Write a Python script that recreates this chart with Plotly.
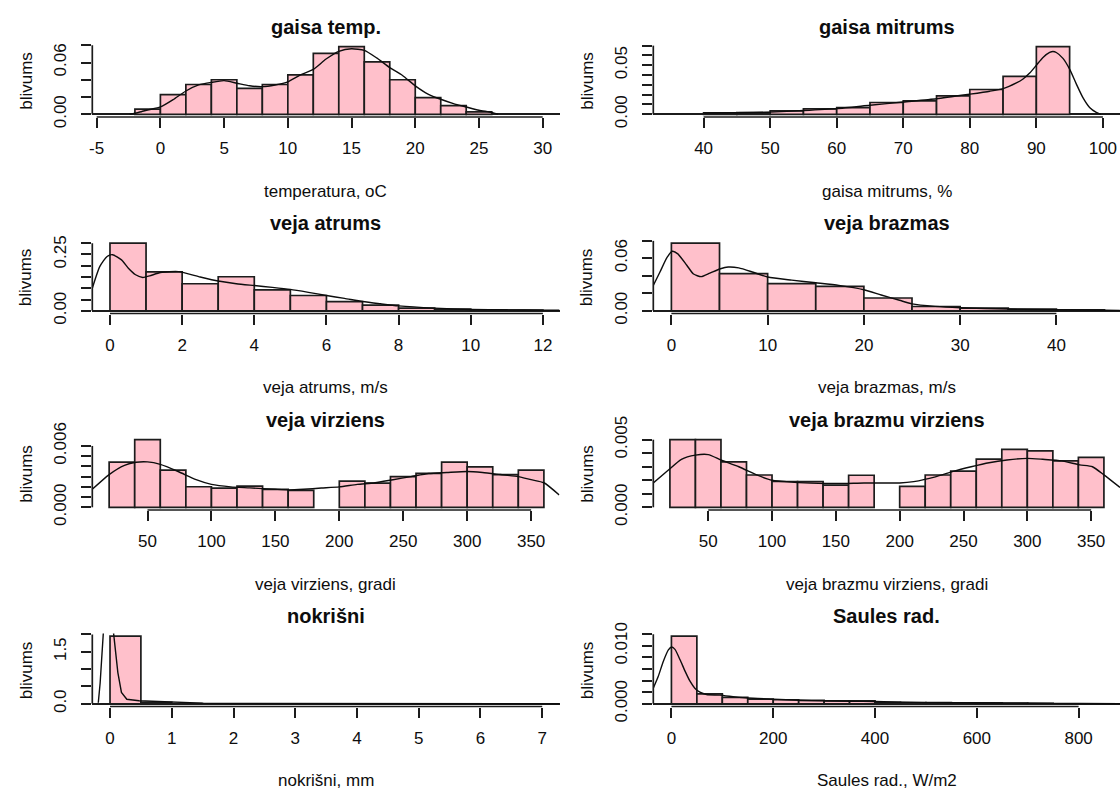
import plotly.graph_objects as go

W, H = 1120, 789

# ---------------- data: histogram breaks, densities and kernel density curves ----------------
temp_breaks = [-2, 0, 2, 4, 6, 8, 10, 12, 14, 16, 18, 20, 22, 24, 26]
temp_dens = [0.0060, 0.0229, 0.0345, 0.0400, 0.0300, 0.0345, 0.0457, 0.0705, 0.0783,
             0.0608, 0.0400, 0.0194, 0.0101, 0.0027]
temp_kde_x = [-2.4, -1.5, -1, 0, 1, 2, 3, 4, 5, 6, 7, 8, 9, 10, 11, 12, 13, 14, 15, 16,
              17, 18, 19, 20, 21, 22, 23, 24, 25, 26, 26.5]
temp_kde_y = [0, 0.003, 0.005, 0.0085, 0.017, 0.027, 0.034, 0.037, 0.039, 0.036, 0.033,
              0.032, 0.034, 0.0376, 0.0457, 0.052, 0.064, 0.073, 0.076, 0.074, 0.065, 0.054,
              0.045, 0.033, 0.0235, 0.0174, 0.0124, 0.0085, 0.0047, 0.0023, 0]

hum_breaks = [40, 45, 50, 55, 60, 65, 70, 75, 80, 85, 90, 95]
hum_dens = [0.0016, 0.0017, 0.0034, 0.0055, 0.0068, 0.0120, 0.0137, 0.0188, 0.0253,
            0.0386, 0.0689]
hum_kde_x = [40, 45, 50, 55, 60, 65, 70, 75, 80, 83, 85, 87, 88, 89, 90, 91, 92, 92.5,
             93, 94, 95, 96, 97, 98, 99, 99.7]
hum_kde_y = [0.0012, 0.0015, 0.0022, 0.0038, 0.0058, 0.0092, 0.0125, 0.0158, 0.0205,
             0.0235, 0.0262, 0.032, 0.036, 0.042, 0.050, 0.058, 0.063, 0.064, 0.063,
             0.057, 0.046, 0.031, 0.017, 0.007, 0.002, 0]

wind_breaks = [0, 1, 2, 3, 4, 5, 6, 7, 8, 9, 10, 11, 12]
wind_dens = [0.300, 0.173, 0.120, 0.151, 0.093, 0.068, 0.041, 0.025, 0.012, 0.007,
             0.004, 0.003]
wind_kde_x = [-0.49, -0.28, -0.08, 0.07, 0.32, 0.51, 0.71, 0.91, 1.1, 1.4, 1.9, 2.5, 3,
              3.5, 4, 4.5, 5, 5.5, 6, 6.5, 7, 7.5, 8, 9, 10, 11, 12, 12.46]
wind_kde_y = [0.10, 0.197, 0.241, 0.249, 0.226, 0.189, 0.16, 0.148, 0.155, 0.17, 0.174,
              0.15, 0.132, 0.12, 0.112, 0.104, 0.095, 0.082, 0.068, 0.055, 0.041, 0.031,
              0.022, 0.012, 0.006, 0.004, 0.003, 0.0025]

gust_breaks = [0, 5, 10, 15, 20, 25, 30, 35, 40, 45]
gust_dens = [0.0772, 0.0424, 0.0311, 0.0278, 0.0146, 0.0049, 0.0030, 0.0019, 0.0011]
gust_kde_x = [-1.88, -1.2, -0.45, 0.1, 0.67, 1.6, 2.3, 3.1, 4.0, 5.1, 5.9, 7.0, 8.5, 10,
              12.5, 15, 17.4, 20, 21.8, 23.7, 25, 27.4, 30, 35, 40, 45, 46.6]
gust_kde_y = [0.029, 0.044, 0.061, 0.068, 0.065, 0.052, 0.042, 0.039, 0.043, 0.048, 0.050,
              0.049, 0.044, 0.0386, 0.035, 0.032, 0.029, 0.024, 0.018, 0.012, 0.0079,
              0.005, 0.0034, 0.002, 0.0012, 0.0006, 0.0005]

dir_breaks = [20, 40, 60, 80, 100, 120, 140, 160, 180, 200, 220, 240, 260, 280, 300,
              320, 340, 360]
dir_dens = [0.00441, 0.00661, 0.00364, 0.00201, 0.00188, 0.00208, 0.00176, 0.00166, None,
            0.00256, 0.00236, 0.00300, 0.00332, 0.00441, 0.00396, 0.00320, 0.00364]
dir_kde_x = [6.8, 20, 32, 41, 50, 60, 74, 88, 100, 115, 130, 150, 161, 172, 186, 200, 214,
             228, 242, 256, 270, 284, 300, 312, 326, 340, 350, 360, 372]
dir_kde_y = [0.00176, 0.0032, 0.0041, 0.0044, 0.00444, 0.0042, 0.0035, 0.0027, 0.00224,
             0.0020, 0.0019, 0.00176, 0.0017, 0.00176, 0.00188, 0.0020, 0.00224, 0.0024,
             0.0027, 0.0030, 0.0033, 0.0034, 0.0035, 0.0034, 0.0032, 0.0030, 0.0027,
             0.0024, 0.0012]

gdir_breaks = [20, 40, 60, 80, 100, 120, 140, 160, 180, 200, 220, 240, 260, 280, 300,
               320, 340, 360]
gdir_dens = [0.0050, 0.0050, 0.00336, 0.00239, 0.00191, 0.00191, 0.00164, 0.00237, None,
             0.00155, 0.00239, 0.00268, 0.00357, 0.00428, 0.00418, 0.00343, 0.00370]
gdir_kde_x = [7, 17.7, 29, 40, 50, 60, 74, 88, 100, 115, 130, 151, 172, 186, 200, 211, 228,
              242, 256, 270, 284, 300, 312, 327, 341, 351, 360, 372.6]
gdir_kde_y = [0.0018, 0.00266, 0.00355, 0.00386, 0.0039, 0.0035, 0.0030, 0.0024, 0.0020,
              0.00186, 0.0018, 0.00176, 0.0018, 0.0018, 0.0018, 0.0019, 0.00225, 0.00266,
              0.0030, 0.0033, 0.0035, 0.00362, 0.00355, 0.00343, 0.00314, 0.0030, 0.0024,
              0.00147]

rain_breaks = [0, 0.5, 1, 1.5, 2, 2.5, 3, 3.5, 4, 4.5, 5, 5.5, 6, 6.5, 7]
rain_dens = [1.95, 0.04, 0.004, 0.002, 0.001, 0.001, 0.0005, 0.0005, 0.0005, 0.0002,
             0.0002, 0.0002, 0.0002, 0.0002]
rain_kde_x = [-0.19, -0.175, -0.16, -0.135, -0.11, -0.02, 0.058, 0.081, 0.097, 0.127, 0.185,
              0.272, 0.47, 0.99, 1.5, 2, 3, 4, 5, 6, 7, 7.28]
rain_kde_y = [0.03, 0.3, 0.6, 1.3, 2.0, 4.5, 2.03, 1.7, 1.4, 0.9, 0.33, 0.13, 0.09, 0.05,
              0.02, 0.01, 0.005, 0.003, 0.002, 0.002, 0.001, 0.001]

sol_breaks = [0, 50, 100, 150, 200, 250, 300, 350, 400, 450, 500, 550, 600, 650, 700, 750]
sol_dens = [0.01167, 0.0017, 0.0011, 0.0008, 0.0007, 0.0006, 0.0005, 0.0005, 0.00025,
            0.00022, 0.0002, 0.00018, 0.00015, 0.00012, 0.00008]
sol_kde_x = [-35.6, -26, -16, -6, 0.6, 7, 17, 27, 36.5, 46, 56, 69, 95, 125, 150, 200, 250,
             300, 350, 400, 500, 600, 700, 800, 881]
sol_kde_y = [0.0027, 0.0047, 0.0073, 0.0093, 0.0098, 0.0094, 0.0076, 0.0056, 0.0039,
             0.0027, 0.0020, 0.0016, 0.0015, 0.0012, 0.0010, 0.0008, 0.0006, 0.0005,
             0.00045, 0.0004, 0.0002, 0.00015, 0.0001, 0.00005, 0.00002]

# ---------------- panel definitions ----------------
panels = [
    dict(title="gaisa temp.", xlab="temperatura, oC", breaks=temp_breaks, dens=temp_dens,
         kx=temp_kde_x, ky=temp_kde_y, xr=[-5.344, 31.32], xt=[-5, 0, 5, 10, 15, 20, 25, 30],
         yt=[0, 0.02, 0.04, 0.06, 0.08], yl=["0.00", "", "", "0.06", ""], base=True),
    dict(title="gaisa mitrums", xlab="gaisa mitrums, %", breaks=hum_breaks, dens=hum_dens,
         kx=hum_kde_x, ky=hum_kde_y, xr=[32.44, 102.57], xt=[40, 50, 60, 70, 80, 90, 100],
         yt=[0, 0.01, 0.02, 0.03, 0.04, 0.05, 0.06, 0.07],
         yl=["0.00", "", "", "", "", "0.05", "", ""], base=True),
    dict(title="veja atrums", xlab="veja atrums, m/s", breaks=wind_breaks, dens=wind_dens,
         kx=wind_kde_x, ky=wind_kde_y, xr=[-0.49, 12.46], xt=[0, 2, 4, 6, 8, 10, 12],
         yt=[0, 0.05, 0.10, 0.15, 0.20, 0.25, 0.30],
         yl=["0.00", "", "", "", "", "0.25", ""], base=True),
    dict(title="veja brazmas", xlab="veja brazmas, m/s", breaks=gust_breaks, dens=gust_dens,
         kx=gust_kde_x, ky=gust_kde_y, xr=[-1.88, 46.61], xt=[0, 10, 20, 30, 40],
         yt=[0, 0.02, 0.04, 0.06, 0.08], yl=["0.00", "", "", "0.06", ""], base=True),
    dict(title="veja virziens", xlab="veja virziens, gradi", breaks=dir_breaks, dens=dir_dens,
         kx=dir_kde_x, ky=dir_kde_y, xr=[6.83, 372.2], xt=[50, 100, 150, 200, 250, 300, 350],
         yt=[0, 0.001, 0.002, 0.003, 0.004, 0.005, 0.006],
         yl=["0.000", "", "", "", "", "", "0.006"], base=False),
    dict(title="veja brazmu virziens", xlab="veja brazmu virziens, gradi", breaks=gdir_breaks,
         dens=gdir_dens, kx=gdir_kde_x, ky=gdir_kde_y, xr=[6.99, 372.6],
         xt=[50, 100, 150, 200, 250, 300, 350],
         yt=[0, 0.001, 0.002, 0.003, 0.004, 0.005],
         yl=["0.000", "", "", "", "", "0.005"], base=False),
    dict(title="nokrišni", xlab="nokrišni, mm", breaks=rain_breaks, dens=rain_dens,
         kx=rain_kde_x, ky=rain_kde_y, xr=[-0.287, 7.28], xt=[0, 1, 2, 3, 4, 5, 6, 7],
         yt=[0, 0.5, 1.0, 1.5, 2.0], yl=["0.0", "", "", "1.5", ""], base=True, linear=True),
    dict(title="Saules rad.", xlab="Saules rad., W/m2", breaks=sol_breaks, dens=sol_dens,
         kx=sol_kde_x, ky=sol_kde_y, xr=[-35.6, 881.3], xt=[0, 200, 400, 600, 800],
         yt=[0, 0.002, 0.004, 0.006, 0.008, 0.010, 0.012],
         yl=["0.000", "", "", "", "", "0.010", ""], base=True),
]

# ---------------- geometry of the 4 x 2 grid (pixels) ----------------
COL_X = [(92.3, 559.5), (653.3, 1120.0)]
ROW_TOP0, ROW_STEP, PLOT_H = 44.0, 196.5, 73.0

INK = "#1c1c1c"
TXT = "#0d0d0d"
FONT = "Liberation Sans, Arial, sans-serif"


def px_x(v):
    return v / W


def px_y(v):
    return 1 - v / H


fig = go.Figure()
layout = dict(
    width=W, height=H, margin=dict(l=0, r=0, t=0, b=0, autoexpand=False),
    paper_bgcolor="white", plot_bgcolor="white", showlegend=False,
    barmode="overlay", font=dict(family=FONT, color=TXT, size=17),
)
shapes, annotations = [], []

for i, p in enumerate(panels):
    n = i + 1
    r, c = divmod(i, 2)
    x0, x1 = COL_X[c]
    top = ROW_TOP0 + r * ROW_STEP
    bot = top + PLOT_H
    xa = "x" if n == 1 else f"x{n}"
    ya = "y" if n == 1 else f"y{n}"

    b = p["breaks"]
    centers = [(a + z) / 2 for a, z in zip(b[:-1], b[1:])]
    widths = [z - a for a, z in zip(b[:-1], b[1:])]
    fig.add_trace(go.Bar(
        x=centers, y=p["dens"], width=widths, xaxis=xa, yaxis=ya,
        marker=dict(color="#FFC0CB", line=dict(color=INK, width=1.7)),
        hoverinfo="skip",
    ))
    fig.add_trace(go.Scatter(
        x=p["kx"], y=p["ky"], mode="lines", xaxis=xa, yaxis=ya,
        line=dict(color=TXT, width=1.4,
                  shape="linear" if p.get("linear") else "spline", smoothing=0.6),
        hoverinfo="skip",
    ))

    ymax = max(v for v in p["dens"] if v is not None)
    key = "" if n == 1 else str(n)
    layout["xaxis" + key] = dict(
        domain=[px_x(x0), px_x(x1)], anchor=ya, range=p["xr"], automargin=False,
        tickmode="array", tickvals=p["xt"], ticktext=[str(v) for v in p["xt"]],
        ticklabelstandoff=6,
        ticks="outside", ticklen=10, tickwidth=1.6, tickcolor=INK,
        showgrid=False, zeroline=False, showline=False,
        tickfont=dict(size=17, family=FONT, color=TXT),
    )
    layout["yaxis" + key] = dict(
        domain=[px_y(bot), px_y(top)], anchor=xa, range=[-0.04 * ymax, 1.04 * ymax],
        automargin=False,
        tickmode="array", tickvals=p["yt"], ticktext=p["yl"], tickangle=-90,
        ticklabelstandoff=9,
        ticks="outside", ticklen=10, tickwidth=1.6, tickcolor=INK,
        showgrid=False, showline=False,
        zeroline=p["base"], zerolinecolor=INK, zerolinewidth=2.2,
        tickfont=dict(size=17, family=FONT, color=TXT),
    )

    # R-style axis lines: from first to last tick only
    shapes.append(dict(type="line", xref=xa, yref="paper",
                       x0=p["xt"][0], x1=p["xt"][-1], y0=px_y(bot), y1=px_y(bot),
                       line=dict(color=INK, width=1.7), layer="above"))
    shapes.append(dict(type="line", xref="paper", yref=ya,
                       x0=px_x(x0), x1=px_x(x0), y0=p["yt"][0], y1=p["yt"][-1],
                       line=dict(color=INK, width=1.7), layer="above"))

    cx = (x0 + x1) / 2
    annotations.append(dict(text=f"<b>{p['title']}</b>", x=px_x(cx), y=px_y(top - 17.5),
                            xref="paper", yref="paper", showarrow=False,
                            xanchor="center", yanchor="middle",
                            font=dict(size=20, family=FONT, color=TXT)))
    annotations.append(dict(text=p["xlab"], x=px_x(cx), y=px_y(bot + 74),
                            xref="paper", yref="paper", showarrow=False,
                            xanchor="center", yanchor="middle",
                            font=dict(size=17, family=FONT, color=TXT)))
    annotations.append(dict(text="blivums", x=px_x(x0 - 66), y=px_y((top + bot) / 2),
                            xref="paper", yref="paper", showarrow=False, textangle=-90,
                            xanchor="center", yanchor="middle",
                            font=dict(size=17, family=FONT, color=TXT)))

layout["shapes"] = shapes
layout["annotations"] = annotations
fig.update_layout(**layout)
fig.write_html("out.html")
